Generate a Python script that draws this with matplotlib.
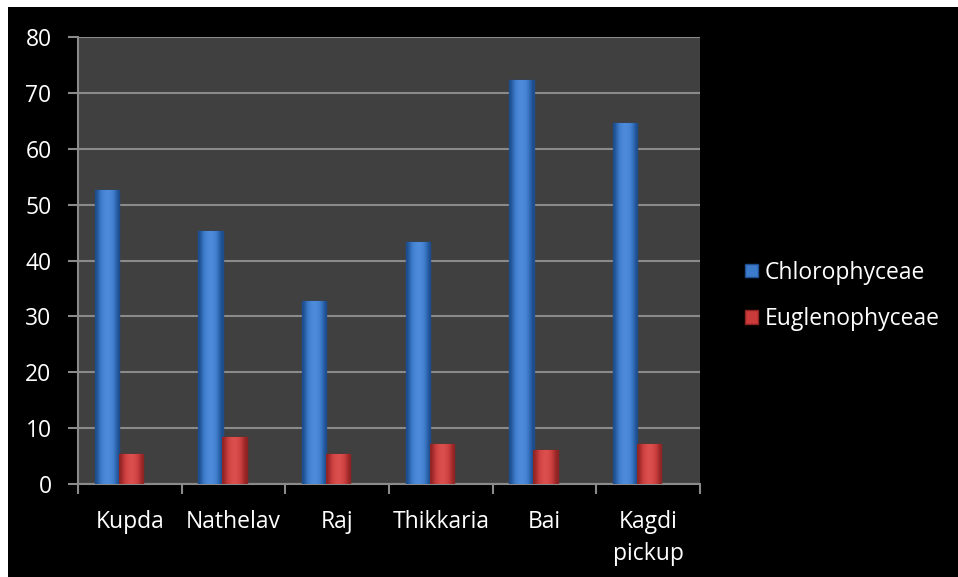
import numpy as np
import matplotlib.pyplot as plt
from matplotlib.patches import Rectangle
from matplotlib.colors import LinearSegmentedColormap

sites = ["Kupda", "Nathelav", "Raj", "Thikkaria", "Bai", "Kagdi\npickup"]
chloro = [52.6, 45.3, 32.8, 43.3, 72.3, 64.6]
eugleno = [5.4, 8.4, 5.4, 7.1, 6.1, 7.1]

plt.rcParams['font.family'] = ['Open Sans', 'DejaVu Sans']

fig = plt.figure(figsize=(9.58, 5.77), dpi=100, facecolor='white')
# black panel, thin white strip at top and left
fig.patches.append(Rectangle((8 / 958, 0), 1, 1 - 7 / 577, transform=fig.transFigure,
                             facecolor='black', edgecolor='none', zorder=-5))

ax = fig.add_axes([78 / 958, 1 - 484 / 577, 622 / 958, 447 / 577])
ax.set_zorder(2)
ax.set_facecolor('#404040')

x = np.arange(len(sites))
w = 0.235
b1 = ax.bar(x - 0.222, chloro, w, color='#3c7bcb', edgecolor='#1f4f8e', linewidth=1.0,
            label='Chlorophyceae', zorder=3)
b2 = ax.bar(x + 0.009, eugleno, w, color='#cc3b3b', edgecolor='#8e2222', linewidth=1.0,
            label='Euglenophyceae', zorder=3)

# cylinder-like shading across each bar
shade = np.array([[0, 0.35, 0.7, 0.9, 1.0, 0.9, 0.7, 0.35, 0]])
cm_blue = LinearSegmentedColormap.from_list('b', ['#1d4c8c', '#3a78c8', '#4f8ddc'])
cm_red = LinearSegmentedColormap.from_list('r', ['#8f2424', '#c83a3a', '#dc5050'])
for bars, cmap in [(b1, cm_blue), (b2, cm_red)]:
    for p in bars:
        im = ax.imshow(shade, cmap=cmap, vmin=0, vmax=1, aspect='auto', zorder=4,
                       extent=[p.get_x(), p.get_x() + p.get_width(), 0, p.get_height()],
                       interpolation='bicubic')
        im.set_clip_path(p)

ax.set_ylim(0, 80)
ax.set_xlim(-0.5, len(sites) - 0.5)
ax.set_yticks(range(0, 81, 10))
ax.yaxis.grid(True, color='#8a8a8a', linewidth=1.5, zorder=1)
ax.set_axisbelow(True)

ax.set_xticks(x)
ax.set_xticklabels(sites, color='white', fontsize=16.5, linespacing=1.4)
ax.set_xticks(np.arange(-0.5, len(sites), 1), minor=True)
ax.tick_params(axis='x', which='major', length=0, pad=19)
ax.tick_params(axis='x', which='minor', length=7, color='#8a8a8a', width=1.5)
ax.tick_params(axis='y', length=7, color='#8a8a8a', width=1.5, labelcolor='white',
               labelsize=16.5, pad=12)

for s in ['top', 'right']:
    ax.spines[s].set_visible(False)
for s in ['left', 'bottom']:
    ax.spines[s].set_color('#8a8a8a')
    ax.spines[s].set_linewidth(1.5)

leg = fig.legend(handles=[b1, b2], loc='center left', bbox_to_anchor=(0.778, 0.487),
                 frameon=False, fontsize=16.5, handlelength=0.55, handleheight=0.55,
                 handletextpad=0.3, labelspacing=1.0, borderpad=0, borderaxespad=0)
for t in leg.get_texts():
    t.set_color('white')

fig.savefig('out.png', dpi=100, facecolor=fig.get_facecolor())
